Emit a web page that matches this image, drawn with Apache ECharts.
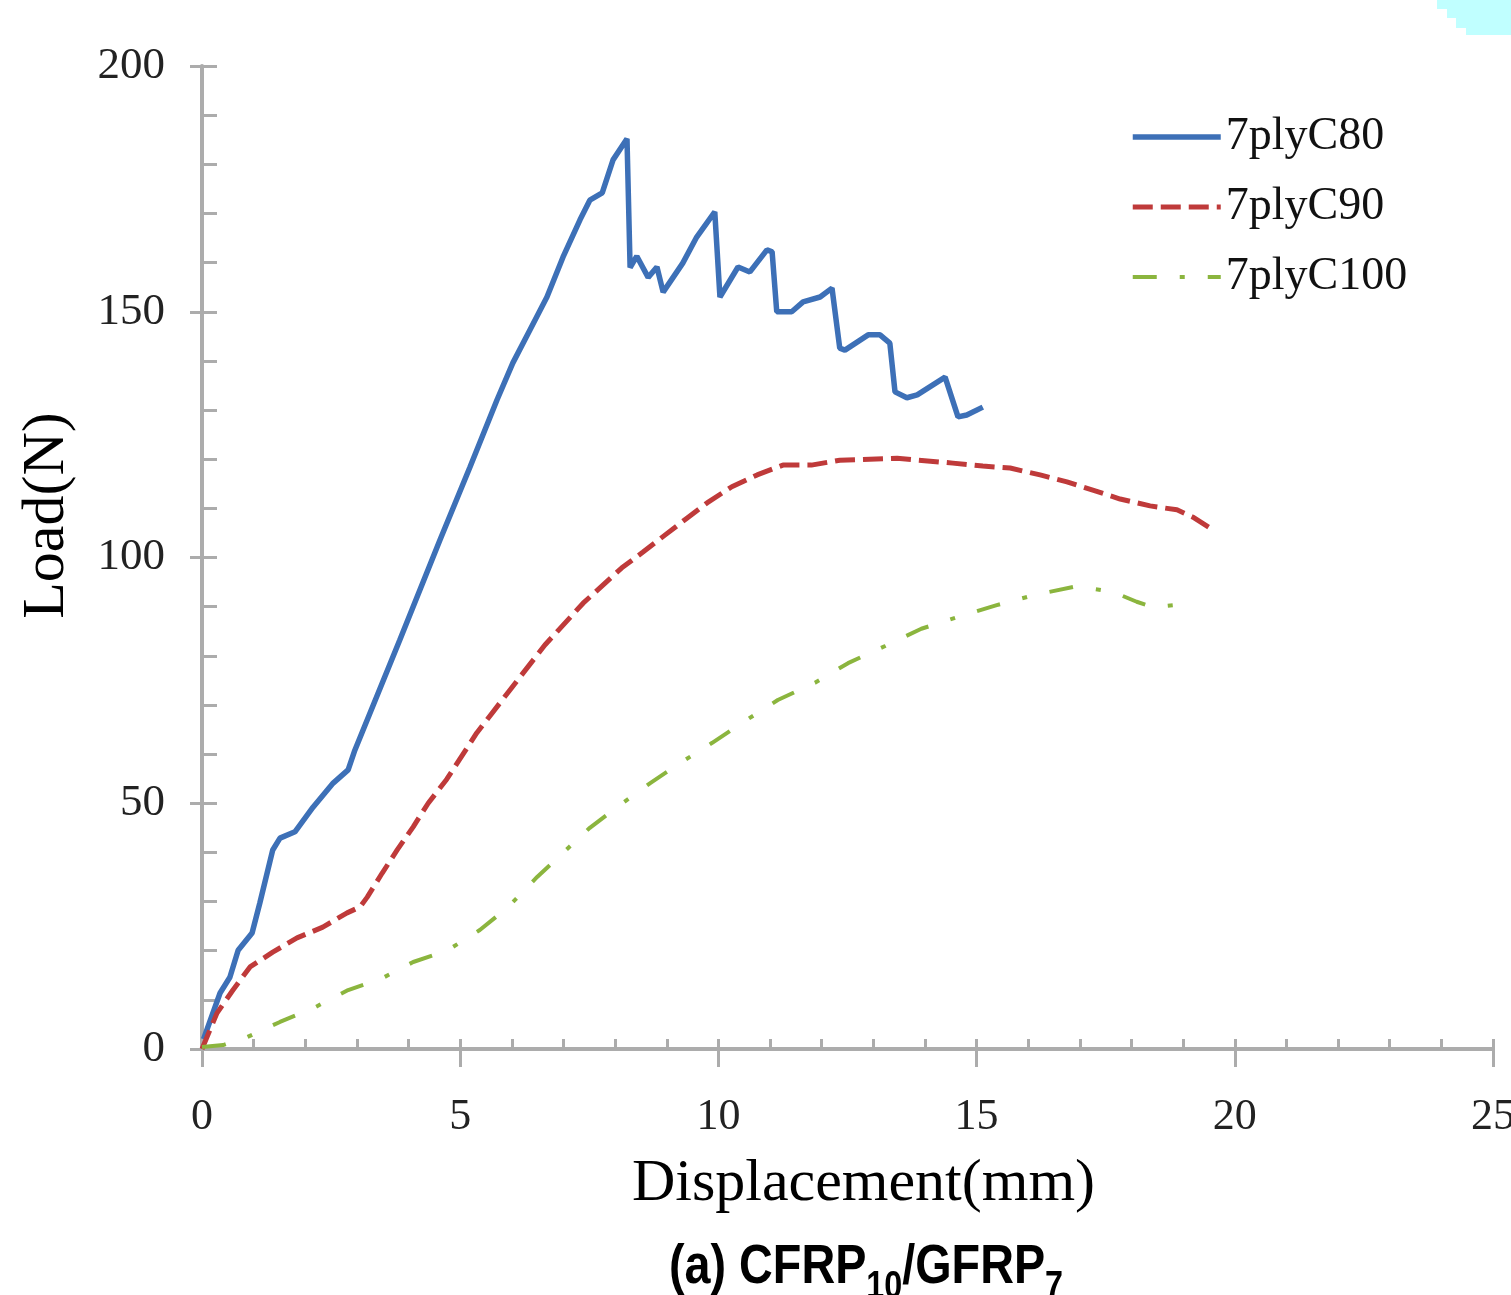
<!DOCTYPE html>
<html>
<head>
<meta charset="utf-8">
<script src="https://cdn.jsdelivr.net/npm/echarts@6/dist/echarts.min.js"></script>
<style>
  html, body { margin: 0; padding: 0; background: #fff; }
  #chart { width: 1511px; height: 1295px; }
</style>
</head>
<body>
<div id="chart"></div>
<script>
// load-displacement curves
const seriesNames = ['7plyC80', '7plyC90', '7plyC100'];

const c80 = [
  [0.03, 2], [0.35, 11.4], [0.54, 14.6], [0.70, 20.1], [0.97, 23.6], [1.12, 29.7],
  [1.37, 40.5], [1.51, 42.9], [1.80, 44.2], [2.15, 49.2], [2.54, 54.1], [2.83, 56.8],
  [2.96, 60.8], [3.83, 83.2], [4.61, 103.6], [5.19, 118.4], [5.71, 132], [6.02, 139.6],
  [6.35, 146.3], [6.68, 153], [6.99, 161.1], [7.32, 168.7], [7.51, 172.7], [7.75, 174.2],
  [7.96, 180.9], [8.23, 185.2], [8.29, 159], [8.42, 161.3], [8.64, 157], [8.81, 159.1],
  [8.93, 154], [9.31, 159.9], [9.58, 165.2], [9.93, 170.3], [10.03, 153], [10.38, 159.1],
  [10.61, 158.1], [10.94, 162.6], [11.04, 162.2], [11.13, 150], [11.42, 150], [11.64, 152],
  [11.97, 153], [12.2, 154.8], [12.35, 142.6], [12.45, 142.2], [12.9, 145.3], [13.13, 145.3],
  [13.32, 143.6], [13.42, 133.7], [13.65, 132.5], [13.85, 133.1], [14.39, 136.7],
  [14.64, 128.6], [14.81, 129], [15.12, 130.6]
];

const c90 = [
  [0, 0], [0.29, 7.3], [0.6, 12], [0.93, 16.7], [1.37, 19.7], [1.84, 22.6], [2.34, 24.8],
  [2.81, 27.7], [3.06, 28.9], [3.2, 30.9], [3.49, 35.8], [3.78, 40.5], [4.09, 45.2],
  [4.38, 50], [4.74, 54.9], [5.32, 64.3], [5.96, 73], [6.64, 82.2], [7.38, 90.7],
  [8.13, 97.9], [8.54, 101.1], [8.97, 104.6], [9.39, 108], [9.78, 111.1], [10.26, 114.4],
  [10.75, 116.8], [11.25, 118.8], [11.8, 118.8], [12.35, 119.8], [13.46, 120.2],
  [14.54, 119.2], [15.12, 118.6], [15.65, 118.2], [16.23, 116.8], [16.75, 115.4],
  [17.25, 113.7], [17.78, 111.9], [18.36, 110.5], [18.88, 109.7], [19.19, 108.2], [19.52, 106]
];

const c100 = [
  [0, 0.4], [0.41, 0.8], [0.87, 2.4], [1.51, 5.5], [2.19, 8.5], [2.83, 12], [3.49, 14.4],
  [4.09, 17.7], [4.76, 20.1], [5.38, 24.2], [5.93, 28.9], [6.49, 35], [6.99, 39.9],
  [7.51, 45], [8.06, 49.4], [8.68, 54.1], [9.26, 58.2], [9.88, 62.3], [10.48, 66.5],
  [11.15, 71], [11.87, 74.5], [12.51, 78.5], [13.23, 82], [13.93, 85.5], [14.64, 87.9],
  [15.39, 90.3], [16.13, 92.4], [16.87, 94], [17.14, 93.8], [17.64, 93], [18.1, 91],
  [18.42, 89.9], [19.0, 90.5]
];

const xRange = { min: 0, max: 25, interval: 5 };
const yRange = { min: 0, max: 200, interval: 50 };

const serif = '"Liberation Serif", "DejaVu Serif", serif';
const axisGray = '#acacac';
const colors = ['#3d70b7', '#bf3a3a', '#8bb53e'];
const dashes = ['solid', [20, 8], [24, 23, 5, 23]];
const widths = [5.5, 5, 4];

const chart = echarts.init(document.getElementById('chart'));

const option = {
  animation: false,
  backgroundColor: '#fff',
  grid: { left: 202, right: 18, top: 66, bottom: 246, outerBoundsMode: 'none' },
  legend: {
    orient: 'vertical',
    left: 1130,
    top: 114,
    padding: 0,
    itemWidth: 88,
    itemHeight: 12,
    itemGap: 24,
    itemStyle: { opacity: 0 },
    textStyle: { fontFamily: serif, fontSize: 46, color: '#111' },
    data: seriesNames.map((n, i) => ({
      name: n,
      lineStyle: { color: colors[i], width: widths[i], type: dashes[i] }
    }))
  },
  xAxis: [
    {
      type: 'value',
      ...xRange,
      axisLine: { lineStyle: { color: axisGray, width: 4 } },
      axisTick: { inside: true, length: 10, lineStyle: { color: axisGray, width: 3 } },
      minorTick: { show: true, splitNumber: 5, length: 10, lineStyle: { color: axisGray, width: 3 } },
      splitLine: { show: false },
      axisLabel: { margin: 46, fontFamily: serif, fontSize: 44, color: '#222' },
      name: 'Displacement(mm)',
      nameLocation: 'middle',
      nameGap: 105,
      nameTextStyle: { fontFamily: serif, fontSize: 60, color: '#000', padding: [0, 0, 0, 32] }
    },
    {
      type: 'value',
      position: 'bottom',
      ...xRange,
      axisLine: { show: false },
      axisTick: { inside: false, length: 18, lineStyle: { color: axisGray, width: 3 } },
      axisLabel: { show: false },
      splitLine: { show: false }
    }
  ],
  yAxis: [
    {
      type: 'value',
      position: 'left',
      ...yRange,
      axisLine: { show: true, lineStyle: { color: axisGray, width: 4 } },
      axisTick: { show: true, inside: true, length: 15, lineStyle: { color: axisGray, width: 3 } },
      minorTick: { show: true, splitNumber: 5, length: 15, lineStyle: { color: axisGray, width: 3 } },
      splitLine: { show: false },
      axisLabel: { margin: 37, fontFamily: serif, fontSize: 45, color: '#222' },
      name: 'Load(N)',
      nameLocation: 'middle',
      nameRotate: 90,
      nameGap: 125,
      nameTextStyle: { fontFamily: serif, fontSize: 60, color: '#000', padding: [0, 0, 0, 84] }
    },
    {
      type: 'value',
      position: 'left',
      ...yRange,
      axisLine: { show: false },
      axisTick: { show: true, inside: false, length: 12, lineStyle: { color: axisGray, width: 3 } },
      axisLabel: { show: false },
      splitLine: { show: false }
    }
  ],
  series: [c80, c90, c100].map((d, i) => ({
    name: seriesNames[i],
    type: 'line',
    data: d,
    symbol: 'none',
    color: colors[i],
    lineStyle: { color: colors[i], width: widths[i], type: dashes[i] }
  })),
  graphic: [
    {
      type: 'text',
      x: 866,
      y: 1247,
      scaleX: 0.85,
      style: {
        text: '{a|(a) CFRP}{s|10}{a|/GFRP}{s|7}',
        textAlign: 'center',
        fill: '#000',
        rich: {
          a: {
            fontFamily: '"Liberation Sans", sans-serif',
            fontWeight: 'bold', fontSize: 55, lineHeight: 60, padding: [0, 0, 18, 0]
          },
          s: {
            fontFamily: '"Liberation Sans", sans-serif',
            fontWeight: 'bold', fontSize: 38, lineHeight: 38, verticalAlign: 'bottom'
          }
        }
      }
    },
    {
      type: 'polygon',
      shape: {
        points: [[1437, 0], [1511, 0], [1511, 35], [1466, 35], [1466, 28], [1456, 28],
                 [1456, 18], [1447, 18], [1447, 9], [1437, 9]]
      },
      style: { fill: '#c0ffff' },
      silent: true
    }
  ]
};

chart.setOption(option);
</script>
</body>
</html>
